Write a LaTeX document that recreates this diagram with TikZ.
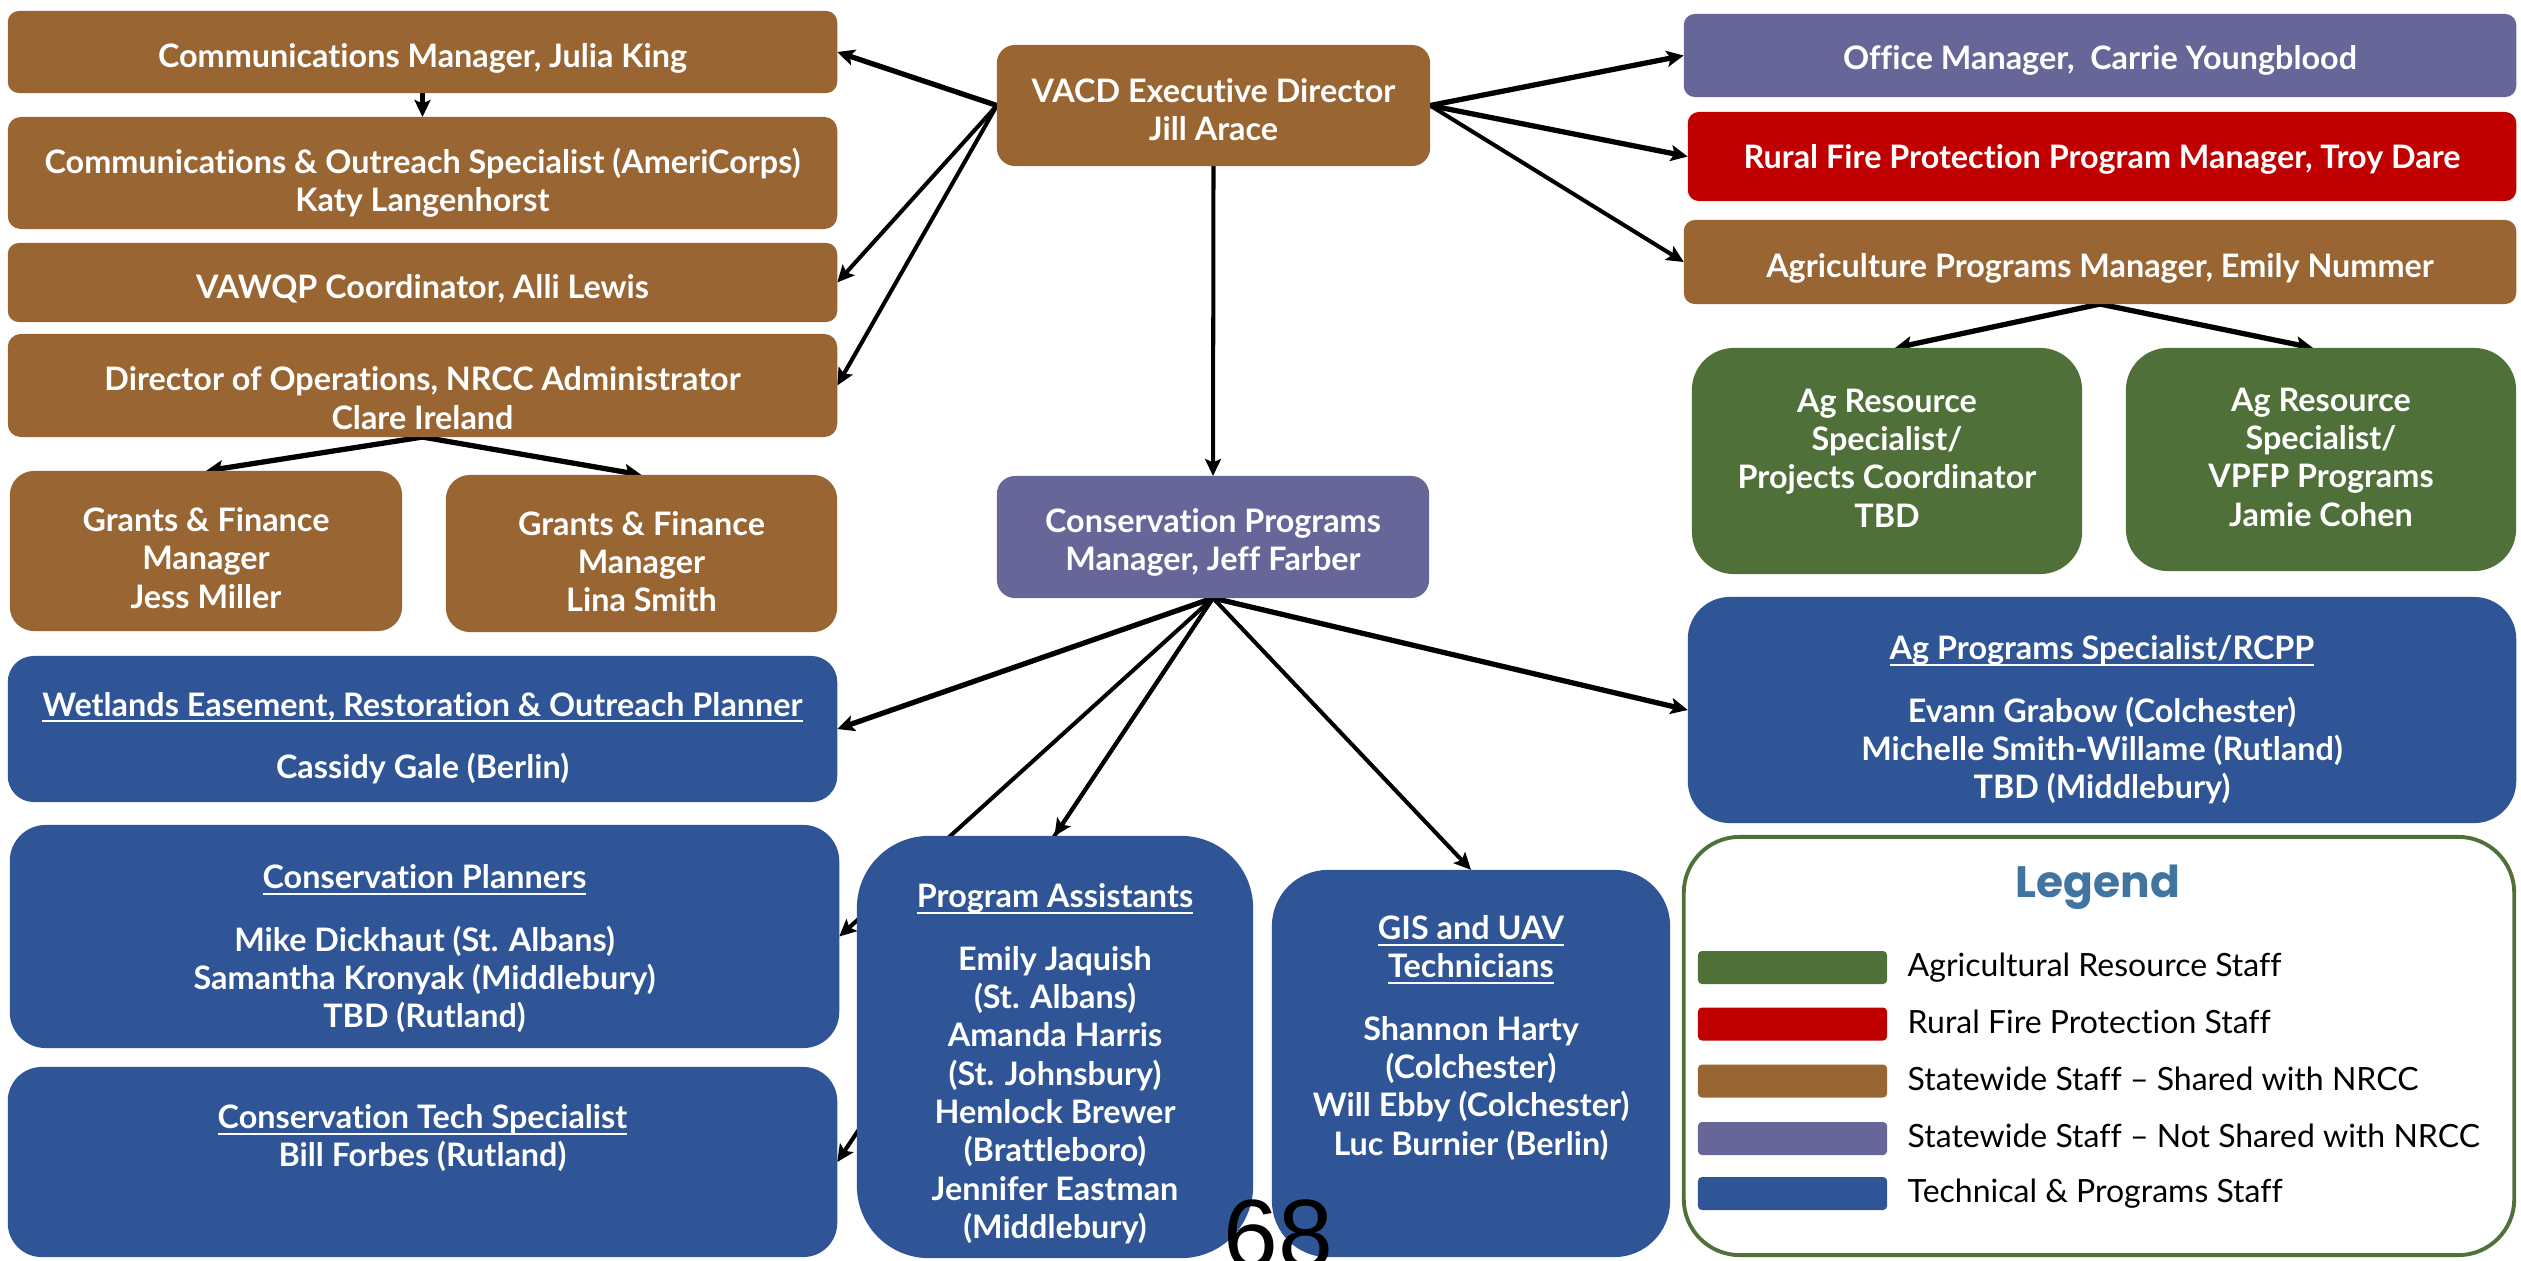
\documentclass[tikz,border=0pt]{standalone}
\usepackage{fontspec}
\setmainfont{Lato}[Ligatures=NoCommon]
\newfontfamily\numfont{Liberation Sans}
\newfontfamily\titlefont{Poppins}
\usetikzlibrary{arrows.meta,calc}
\pgfdeclarelayer{bg}
\pgfsetlayers{bg,main}
\definecolor{cbrown}{RGB}{153,102,51}
\definecolor{cpurple}{RGB}{102,102,153}
\definecolor{cred}{RGB}{192,0,0}
\definecolor{cgreen}{RGB}{80,112,58}
\definecolor{cblue}{RGB}{47,85,151}
\definecolor{ctitle}{RGB}{65,117,160}
\newcommand\boxfont{\fontsize{9.2pt}{10.9pt}\selectfont\bfseries}
\newcommand\legfont{\fontsize{9.1pt}{10.9pt}\selectfont}
\newcommand\hdr[1]{\setbox0\hbox{#1}\rlap{\rule[-1.8pt]{\wd0}{0.6pt}}\box0}
\begin{document}
\begin{tikzpicture}[x=0.01cm,y=-0.01cm,
  orgbox/.style={rectangle, rounded corners=#1, inner sep=0pt, outer sep=0pt},
  orgtext/.style={inner sep=0pt, text=white, align=center, font=\boxfont},
  conn/.style={line width=1.15pt, -{Stealth[length=0.17cm,width=0.16cm,inset=0.035cm]}},
  connthick/.style={conn, line width=1.5pt},
  swatch/.style={rectangle, rounded corners=0.04cm, minimum width=1.89cm, minimum height=0.33cm, inner sep=0pt, outer sep=0pt},
  legtext/.style={anchor=base west, inner sep=0pt, font=\legfont, text=black}
]
\useasboundingbox (0,0) rectangle (2521,1260);

% left column
\node[orgbox=0.11cm, fill=cbrown, minimum width=8.29cm, minimum height=0.82cm] (comm) at (422.5,52) {};
\node[orgtext] (commT) at (422.5,58) {Communications Manager, Julia King};
\node[orgbox=0.13cm, fill=cbrown, minimum width=8.29cm, minimum height=1.12cm] (commout) at (422.5,173) {};
\node[orgtext] (commoutT) at (422.5,183) {Communications \& Outreach Specialist (AmeriCorps)\\Katy Langenhorst};
\node[orgbox=0.11cm, fill=cbrown, minimum width=8.29cm, minimum height=0.79cm] (vawqp) at (422.5,282.5) {};
\node[orgtext] (vawqpT) at (422.5,288.5) {VAWQP Coordinator, Alli Lewis};
\node[orgbox=0.13cm, fill=cbrown, minimum width=8.29cm, minimum height=1.03cm] (dirops) at (422.5,385.5) {};
\node[orgtext] (diropsT) at (422.5,398) {Director of Operations, NRCC Administrator\\Clare Ireland};
\node[orgbox=0.24cm, fill=cbrown, minimum width=3.92cm, minimum height=1.60cm] (jess) at (206,551) {};
\node[orgtext] (jessT) at (206,558) {Grants \& Finance\\Manager\\Jess Miller};
\node[orgbox=0.24cm, fill=cbrown, minimum width=3.91cm, minimum height=1.57cm] (lina) at (641.5,553.5) {};
\node[orgtext] (linaT) at (641.5,561.5) {Grants \& Finance\\Manager\\Lina Smith};

% centre column
\node[orgbox=0.18cm, fill=cbrown, minimum width=4.33cm, minimum height=1.21cm] (exec) at (1213.5,105.5) {};
\node[orgtext] (execT) at (1213.5,109.5) {VACD Executive Director\\Jill Arace};
\node[orgbox=0.18cm, fill=cpurple, minimum width=4.32cm, minimum height=1.22cm] (cpm) at (1213,537) {};
\node[orgtext] (cpmT) at (1213,542.5) {Conservation Programs\\Manager, Jeff Farber};

% right column
\node[orgbox=0.11cm, fill=cpurple, minimum width=8.32cm, minimum height=0.83cm] (office) at (2100,55.5) {};
\node[orgtext] (officeT) at (2100,60.5) {Office Manager,~ Carrie Youngblood};
\node[orgbox=0.11cm, fill=cred, minimum width=8.28cm, minimum height=0.89cm] (rural) at (2102,156.5) {};
\node[orgtext] (ruralT) at (2102,159.5) {Rural Fire Protection Program Manager, Troy Dare};
\node[orgbox=0.11cm, fill=cbrown, minimum width=8.32cm, minimum height=0.84cm] (agpm) at (2100,262) {};
\node[orgtext] (agpmT) at (2100,268) {Agriculture Programs Manager, Emily Nummer};
\node[orgbox=0.42cm, fill=cgreen, minimum width=3.90cm, minimum height=2.26cm] (agtbd) at (1887,461) {};
\node[orgtext] (agtbdT) at (1887,458) {Ag Resource\\Specialist/\\Projects Coordinator\\TBD};
\node[orgbox=0.42cm, fill=cgreen, minimum width=3.90cm, minimum height=2.23cm] (agjamie) at (2321,459.5) {};
\node[orgtext] (agjamieT) at (2321,457) {Ag Resource\\Specialist/\\VPFP Programs\\Jamie Cohen};
\node[orgbox=0.42cm, fill=cblue, minimum width=8.28cm, minimum height=2.26cm] (rcpp) at (2102,710) {};
\node[orgtext] (rcppT) at (2102,720) {\hdr{Ag Programs Specialist/RCPP}\\[0.24cm]Evann Grabow (Colchester)\\Michelle Smith-Willame (Rutland)\\TBD (Middlebury)};

% lower left blue boxes
\node[orgbox=0.26cm, fill=cblue, minimum width=8.29cm, minimum height=1.46cm] (wet) at (422.5,729) {};
\node[orgtext] (wetT) at (422.5,738) {\hdr{Wetlands Easement, Restoration \& Outreach Planner}\\[0.24cm]Cassidy Gale (Berlin)};
\node[orgbox=0.36cm, fill=cblue, minimum width=8.29cm, minimum height=2.23cm] (cplan) at (424.5,936.5) {};
\node[orgtext] (cplanT) at (424.5,949) {\hdr{Conservation Planners}\\[0.24cm]Mike Dickhaut (St. Albans)\\Samantha Kronyak (Middlebury)\\TBD (Rutland)};
\node[orgbox=0.34cm, fill=cblue, minimum width=8.29cm, minimum height=1.90cm] (ctech) at (422.5,1162) {};
\node[orgtext] (ctechT) at (422.5,1138) {\hdr{Conservation Tech Specialist}\\Bill Forbes (Rutland)};
\node[orgbox=0.72cm, fill=cblue, minimum width=3.96cm, minimum height=4.22cm] (pa) at (1055,1047) {};
\node[orgtext] (paT) at (1055,1064) {\hdr{Program Assistants}\\[0.24cm]Emily Jaquish\\(St. Albans)\\Amanda Harris\\(St. Johnsbury)\\Hemlock Brewer\\(Brattleboro)\\Jennifer Eastman\\(Middlebury)};
\node[orgbox=0.56cm, fill=cblue, minimum width=3.98cm, minimum height=3.87cm] (gis) at (1471,1063.5) {};
\node[orgtext] (gisT) at (1471,1038) {\hdr{GIS and UAV}\\\hdr{Technicians}\\[0.24cm]Shannon Harty\\(Colchester)\\Will Ebby (Colchester)\\Luc Burnier (Berlin)};

% legend
\node[rectangle, rounded corners=0.56cm, draw=cgreen, line width=1.1pt, fill=white, minimum width=8.30cm, minimum height=4.18cm, inner sep=0pt] (legend) at (2099,1046) {};
\node[font=\titlefont\fontsize{12.5pt}{14pt}\selectfont\bfseries, text=ctitle, anchor=base, inner sep=0pt] (legtitle) at (2098,897) {Legend};
\node[swatch, fill=cgreen] (sw1) at (1792.5,967.5) {};
\node[swatch, fill=cred] (sw2) at (1792.5,1024) {};
\node[swatch, fill=cbrown] (sw3) at (1792.5,1081) {};
\node[swatch, fill=cpurple] (sw4) at (1792.5,1138.5) {};
\node[swatch, fill=cblue] (sw5) at (1792.5,1193.5) {};
\node[legtext] (lt1) at (1907,976) {Agricultural Resource Staff};
\node[legtext] (lt2) at (1907,1033) {Rural Fire Protection Staff};
\node[legtext] (lt3) at (1907,1090) {Statewide Staff – Shared with NRCC};
\node[legtext] (lt4) at (1907,1147) {Statewide Staff – Not Shared with NRCC};
\node[legtext] (lt5) at (1907,1202) {Technical \& Programs Staff};

% page number
\node[font=\numfont\fontsize{28pt}{30pt}\selectfont, anchor=base, inner sep=0pt] (pagenum) at (1278,1268) {68};

% connectors
\begin{pgfonlayer}{bg}
\fill[white] (0,0) rectangle (2521,1260);
\draw[connthick] (exec.west) -- (comm.east);
\draw[conn] (exec.west) -- (vawqp.east);
\draw[conn] (exec.west) -- (dirops.east);
\draw[connthick] (exec.east) -- (office.west);
\draw[connthick] (exec.east) -- (rural.west);
\draw[conn] (exec.east) -- (agpm.west);
\draw[conn] (exec.south) -- (cpm.north);
\draw[conn] (comm.south) -- (commout.north);
\draw[connthick] (dirops.south) -- (jess.north);
\draw[connthick] (dirops.south) -- (lina.north);
\draw[connthick] (agpm.south) -- ($(agtbd.north)+(8,0)$);
\draw[connthick] (agpm.south) -- ($(agjamie.north)+(-8,0)$);
\draw[connthick] (cpm.south) -- (wet.east);
\draw[connthick] (cpm.south) -- (rcpp.west);
\draw[conn] (cpm.south) -- (cplan.east);
\draw[conn] (cpm.south) -- (ctech.east);
\draw[conn] (cpm.south) -- ($(cpm.south)!0.422!(ctech.east)$);
\draw[conn] (cpm.south) -- (gis.north);
\end{pgfonlayer}
\end{tikzpicture}
\end{document}
